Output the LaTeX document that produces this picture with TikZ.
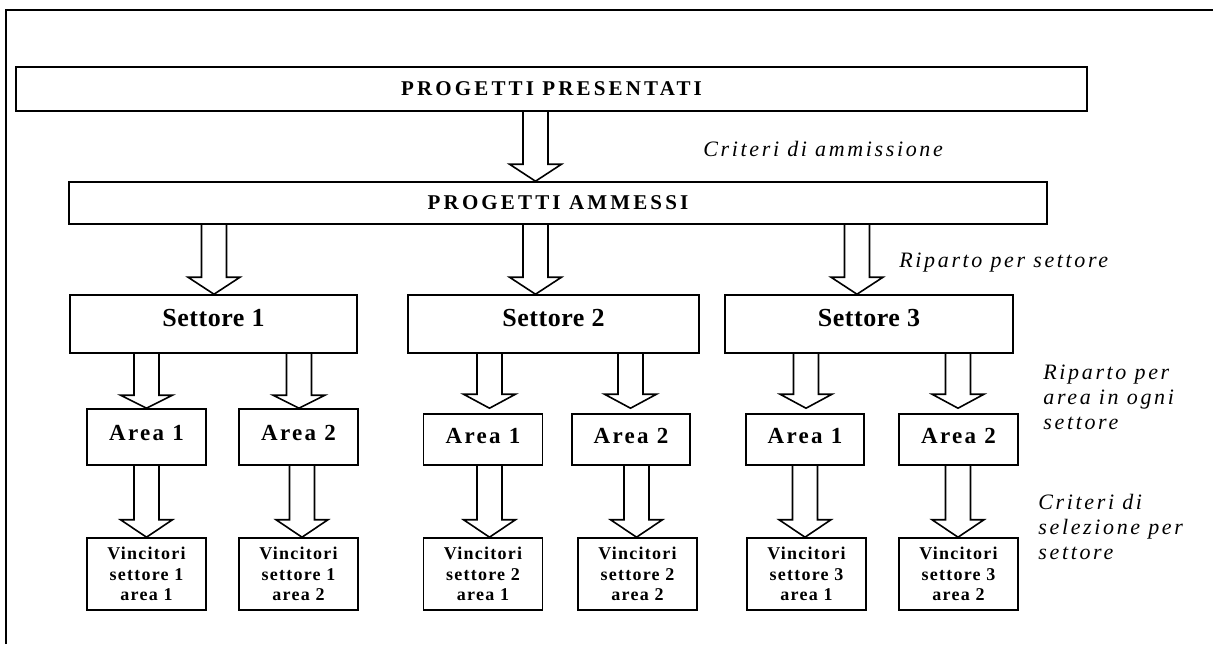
\documentclass[tikz,border=0pt]{standalone}
\usepackage{fontspec}
\setmainfont{Liberation Serif}
\newfontfamily\headfont[LetterSpace=15]{Liberation Serif}
\newfontfamily\notefont[LetterSpace=12]{Liberation Serif}
\newfontfamily\areafont[LetterSpace=10]{Liberation Serif}
\newfontfamily\vincfont[LetterSpace=7]{Liberation Serif}
\newfontfamily\settfont[LetterSpace=2]{Liberation Serif}
\usepackage{tikz}
\usetikzlibrary{calc}

\tikzset{
    box/.style={draw, line width=0.8pt, inner sep=0pt},
    title/.style={box, minimum height=22pt, font=\headfont\bfseries\fontsize{10.5}{12}\selectfont},
    sector/.style={box, minimum height=29pt, text depth=6pt, font=\settfont\bfseries\fontsize{13}{15}\selectfont},
    area/.style={box, minimum width=59.5pt, text depth=4pt, font=\areafont\bfseries\fontsize{11.5}{13}\selectfont},
    winner/.style={box, minimum width=59.5pt, minimum height=36pt, align=center, font=\vincfont\bfseries\fontsize{9}{10.25}\selectfont},
    note/.style={inner sep=0pt, align=left, font=\notefont\itshape\fontsize{11}{12.5}\selectfont},
    flowarrow/.style={draw, line width=0.8pt, line join=miter}
}

% hollow block arrow: x, upper node, lower node, head length, gap
\newcommand{\bigflow}[5]{%
    \coordinate (fx) at (#1,0);
    \draw[flowarrow] let \p1=(#2.south -| fx), \p2=(#3.north -| fx) in
        (\x1-6.25pt,\y1) -- (\x1-6.25pt,\y2+#5+#4) -- (\x1-13pt,\y2+#5+#4)
        -- (\x1,\y2+#5) -- (\x1+13pt,\y2+#5+#4) -- (\x1+6.25pt,\y2+#5+#4) -- (\x1+6.25pt,\y1);
}

\begin{document}
\begin{tikzpicture}[x=0.5pt, y=-0.5pt]
    \useasboundingbox (0,0) rectangle (1213,644);
    \draw[line width=1.2pt] (6,644) -- (6,10) -- (1213,10);

    % Projects
    \node[title, minimum width=535.5pt] (pres) at (551.5,89) {PROGETTI PRESENTATI};
    \node[title, minimum width=489pt, minimum height=21pt] (amm) at (558,203) {PROGETTI AMMESSI};
    \bigflow{535.5}{pres}{amm}{8.5pt}{0pt}
    \node[note, anchor=base west] (crit) at (703,156) {Criteri di ammissione};

    % Sectors
    \node[sector, minimum width=143.5pt] (s1) at (213.5,324) {Settore 1};
    \node[sector, minimum width=145.5pt] (s2) at (553.5,324) {Settore 2};
    \node[sector, minimum width=144pt] (s3) at (869,324) {Settore 3};
    \bigflow{214}{amm}{s1}{8.5pt}{0pt}
    \bigflow{535.5}{amm}{s2}{8.5pt}{0pt}
    \bigflow{857}{amm}{s3}{8.5pt}{0pt}
    \node[note, anchor=base west] (rip) at (899,267) {Riparto per settore};

    % Areas
    \node[area, minimum height=28pt] (a11) at (146.5,437) {Area 1};
    \node[area, minimum height=28pt] (a12) at (298.5,437) {Area 2};
    \node[area, minimum height=25.5pt] (a21) at (483,439.5) {Area 1};
    \node[area, minimum height=25.5pt, minimum width=59pt] (a22) at (631,439.5) {Area 2};
    \node[area, minimum height=25.5pt, minimum width=59pt] (a31) at (805,439.5) {Area 1};
    \node[area, minimum height=25.5pt] (a32) at (958.5,439.5) {Area 2};
    \bigflow{146.5}{s1}{a11}{6.5pt}{0pt}
    \bigflow{299}{s1}{a12}{6.5pt}{0pt}
    \bigflow{489.5}{s2}{a21}{7pt}{2.5pt}
    \bigflow{630.5}{s2}{a22}{7pt}{2.5pt}
    \bigflow{806}{s3}{a31}{7pt}{2.5pt}
    \bigflow{958}{s3}{a32}{7pt}{2.5pt}
    \node[note, anchor=west] (ripa) at (1043,397.5) {Riparto per\\area in ogni\\settore};

    % Winners
    \node[winner] (v11) at (146.5,574) {Vincitori\\settore 1\\area 1};
    \node[winner] (v12) at (298.5,574) {Vincitori\\settore 1\\area 2};
    \node[winner] (v21) at (483,574) {Vincitori\\settore 2\\area 1};
    \node[winner] (v22) at (637.5,574) {Vincitori\\settore 2\\area 2};
    \node[winner] (v31) at (806.5,574) {Vincitori\\settore 3\\area 1};
    \node[winner] (v32) at (958.5,574) {Vincitori\\settore 3\\area 2};
    \bigflow{146.5}{a11}{v11}{8.75pt}{0pt}
    \bigflow{302}{a12}{v12}{8.75pt}{0pt}
    \bigflow{489.5}{a21}{v21}{8.75pt}{0pt}
    \bigflow{636.5}{a22}{v22}{8.75pt}{0pt}
    \bigflow{805}{a31}{v31}{8.75pt}{0pt}
    \bigflow{958}{a32}{v32}{8.75pt}{0pt}
    \node[note, anchor=west] (sel) at (1038,526.5) {Criteri di\\selezione per\\settore};
\end{tikzpicture}
\end{document}
